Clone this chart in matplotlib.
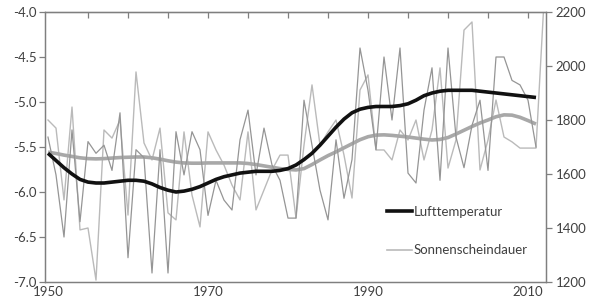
import matplotlib
matplotlib.use("Agg")
import matplotlib.pyplot as plt
from matplotlib.lines import Line2D

plt.rcParams['font.family'] = ['Lato', 'DejaVu Sans']
plt.rcParams['axes.unicode_minus'] = False

years_temp = list(range(1950, 2012))
temp_raw = [-5.39, -5.81, -6.50, -5.31, -6.33, -5.44, -5.57, -5.48, -5.76, -5.12,
            -6.73, -5.53, -5.62, -6.90, -5.53, -6.90, -5.33, -5.81, -5.33, -5.53,
            -6.26, -5.87, -6.09, -6.20, -5.42, -5.09, -5.81, -5.29, -5.70, -5.87,
            -6.29, -6.29, -4.98, -5.48, -5.98, -6.31, -5.42, -6.07, -5.64, -4.40,
            -4.87, -5.53, -4.50, -5.20, -4.40, -5.79, -5.90, -5.09, -4.62, -5.87,
            -4.40, -5.39, -5.73, -5.26, -4.98, -5.76, -4.50, -4.50, -4.76, -4.81,
            -4.98, -5.50]
temp_smooth = [-5.57, -5.65, -5.73, -5.80, -5.86, -5.89, -5.90, -5.90, -5.89, -5.88,
               -5.87, -5.87, -5.88, -5.91, -5.95, -5.98, -6.00, -5.99, -5.97, -5.94,
               -5.90, -5.86, -5.83, -5.81, -5.79, -5.78, -5.77, -5.77, -5.77, -5.76,
               -5.74, -5.70, -5.64, -5.57, -5.48, -5.38, -5.28, -5.19, -5.12, -5.08,
               -5.06, -5.05, -5.05, -5.05, -5.04, -5.02, -4.98, -4.93, -4.90, -4.88,
               -4.87, -4.87, -4.87, -4.87, -4.88, -4.89, -4.90, -4.91, -4.92, -4.93,
               -4.94, -4.95]

years_sun = list(range(1950, 2013))
sun_raw = [1800, 1770, 1504, 1848, 1393, 1400, 1207, 1763, 1733, 1800,
           1448, 1978, 1715, 1652, 1770, 1456, 1430, 1756, 1522, 1404,
           1756, 1689, 1633, 1559, 1504, 1756, 1467, 1541, 1615, 1670,
           1670, 1437, 1707, 1930, 1707, 1756, 1800, 1670, 1511, 1911,
           1967, 1689, 1689, 1652, 1763, 1726, 1800, 1652, 1763, 1993,
           1622, 1726, 2133, 2163, 1615, 1726, 1874, 1737, 1719, 1696,
           1696, 1696, 2240]
years_sun_smooth = list(range(1950, 2012))
sun_smooth = [1681, 1676, 1670, 1665, 1660, 1657, 1656, 1657, 1659, 1661,
              1662, 1663, 1663, 1660, 1655, 1649, 1644, 1641, 1640, 1640,
              1641, 1641, 1641, 1641, 1641, 1639, 1635, 1630, 1625, 1620,
              1617, 1615, 1620, 1635, 1652, 1668, 1682, 1697, 1712, 1727,
              1738, 1744, 1745, 1743, 1740, 1737, 1733, 1729, 1726, 1728,
              1735, 1748, 1762, 1776, 1789, 1800, 1812, 1819, 1818, 1810,
              1798, 1785]

legend_labels = ["Lufttemperatur", "Sonnenscheindauer"]
xtick_labels = [1950, 1970, 1990, 2010]

fig = plt.figure(figsize=(5.91, 3.08), dpi=100)
ax = fig.add_axes([45/591, 26/308, 501/591, 270/308])
ax2 = ax.twinx()

c_temp_raw = '#959595'
c_sun_raw = '#bababa'
c_sun_smooth = '#a8a8a8'
c_temp_smooth = '#111111'

ax2.plot(years_sun, sun_raw, color=c_sun_raw, lw=1.0, zorder=1, clip_on=True)
ax.plot(years_temp, temp_raw, color=c_temp_raw, lw=0.9, zorder=2)
ax2.plot(years_sun_smooth, sun_smooth, color=c_sun_smooth, lw=2.6, zorder=3,
         solid_capstyle='butt')
ax.set_zorder(ax2.get_zorder() + 1)
ax.patch.set_visible(False)
ax.plot(years_temp, temp_smooth, color=c_temp_smooth, lw=2.6, zorder=4,
        solid_capstyle='butt')

ax.set_xlim(1949.625, 2012.25)
ax.set_ylim(-7.0, -4.0)
ax2.set_ylim(1200, 2200)

ax.set_yticks([-7.0, -6.5, -6.0, -5.5, -5.0, -4.5, -4.0])
ax.set_yticklabels([f"{v:.1f}" for v in [-7.0, -6.5, -6.0, -5.5, -5.0, -4.5, -4.0]])
ax2.set_yticks([1200, 1400, 1600, 1800, 2000, 2200])
ax.set_xticks(xtick_labels)
ax.set_xticklabels([str(v) for v in xtick_labels])

spine_c = '#7f7f7f'
label_c = '#404040'
for a in (ax, ax2):
    for s in a.spines.values():
        s.set_color(spine_c)
        s.set_linewidth(0.9)
ax.tick_params(axis='x', length=0, pad=3, labelsize=9.5, colors=label_c)
ax.tick_params(axis='y', direction='out', length=4, width=0.9, color=spine_c,
               labelsize=9.5, labelcolor=label_c, pad=2)
ax2.tick_params(axis='y', direction='out', length=4, width=0.9, color=spine_c,
                labelsize=9.5, labelcolor=label_c, pad=3)

top = ax.secondary_xaxis('top')
top.set_xticks([1955, 1960, 1965, 1970, 1975, 1980, 1985, 1990, 1995, 2000, 2005, 2010])
top.tick_params(direction='in', length=4, width=0.9, color=spine_c, labeltop=False)
top.spines['top'].set_color(spine_c)

handles = [Line2D([0], [0], color=c_temp_smooth, lw=2.6),
           Line2D([0], [0], color=c_sun_raw, lw=1.2)]
leg = ax.legend(handles, legend_labels, loc='upper left',
                bbox_to_anchor=(342/501, (282-206)/270), frameon=False,
                fontsize=9.5, handlelength=1.9, handletextpad=0.1,
                labelspacing=2.0, borderpad=0, borderaxespad=0)
for t in leg.get_texts():
    t.set_color(label_c)

fig.savefig("out.png", dpi=100)
